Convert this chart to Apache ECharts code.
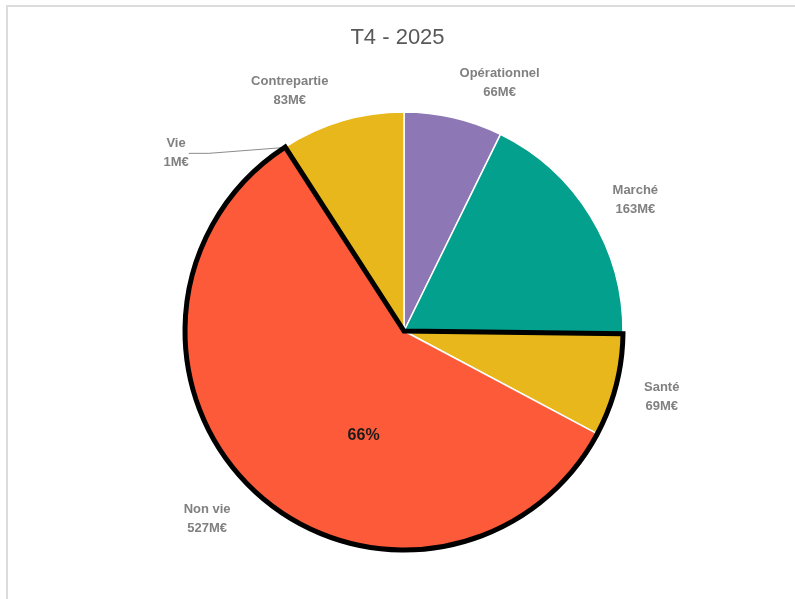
<!DOCTYPE html>
<html>
<head>
<meta charset="utf-8">
<script src="https://cdn.jsdelivr.net/npm/echarts@6/dist/echarts.min.js"></script>
<style>
  html, body { margin: 0; padding: 0; background: #ffffff; }
  #chart { width: 795px; height: 599px; }
</style>
</head>
<body>
<div id="chart"></div>
<script>
// Capital requirement by risk module, Q4 2025 (M€)
const categories = ['Opérationnel', 'Marché', 'Santé', 'Non vie', 'Vie', 'Contrepartie'];
const valuesM = [66, 163, 69, 527, 1, 83];
const sliceColors = ['#8e77b5', '#02a08d', '#e8b71b', '#fd5a3a', '#f2c9a0', '#e8b71b'];
// Underwriting modules grouped together and outlined
const underwritingGroup = ['Santé', 'Non vie', 'Vie'];

const total = valuesM.reduce((a, b) => a + b, 0);
const cx = 404, cy = 331, R = 219;

// Mid-angle (degrees clockwise from 12 o'clock) of each slice
const midAngles = [];
let acc = 0;
valuesM.forEach(v => {
  const a = v / total * 360;
  midAngles.push(acc + a / 2);
  acc += a;
});

// Small angular nudges that keep the outside labels clear of one another
const labelNudge = { 'Opérationnel': 8, 'Marché': 2, 'Contrepartie': -9, 'Non vie': 4, 'Vie': -19 };
const labelDist = { 'Vie': 289, 'Non vie': 272 };

const groupIdx = underwritingGroup.map(n => categories.indexOf(n));
const beforeSum = valuesM.slice(0, Math.min(...groupIdx)).reduce((a, b) => a + b, 0);
const groupSum = groupIdx.reduce((a, i) => a + valuesM[i], 0);
const afterSum = total - beforeSum - groupSum;

const chart = echarts.init(document.getElementById('chart'), null, { renderer: 'canvas' });

chart.setOption({
  backgroundColor: '#ffffff',
  animation: false,
  title: {
    text: 'T4 - 2025',
    left: 'center',
    top: 22,
    textStyle: { fontFamily: 'Liberation Sans, Arial, sans-serif', fontSize: 22, fontWeight: 'normal', color: '#595959' }
  },
  graphic: [{
    type: 'rect',
    shape: { x: 7, y: 6, width: 800, height: 600 },
    style: { fill: 'none', stroke: '#dcdcdc', lineWidth: 2 },
    silent: true
  }],
  series: [
    {
      type: 'pie',
      center: [cx, cy],
      radius: [0, R],
      startAngle: 90,
      clockwise: true,
      silent: true,
      itemStyle: { borderColor: '#ffffff', borderWidth: 1.5 },
      data: categories.map((c, i) => ({
        name: c,
        value: valuesM[i],
        itemStyle: { color: sliceColors[i] },
        labelLine: { show: c === 'Vie' }
      })),
      label: {
        show: true,
        position: 'outside',
        formatter: p => p.name + '\n' + p.value + 'M€',
        fontFamily: 'Liberation Sans, Arial, sans-serif',
        fontSize: 13,
        fontWeight: 'bold',
        color: '#808080',
        lineHeight: 19,
        align: 'center'
      },
      labelLine: { show: false, length: 20, length2: 20, lineStyle: { color: '#8c8c8c', width: 1 } },
      labelLayout: function (params) {
        const name = categories[params.dataIndex];
        const ang = (midAngles[params.dataIndex] + (labelNudge[name] || 0)) * Math.PI / 180;
        const d = labelDist[name] || 266;
        const x = cx + Math.sin(ang) * d;
        const y = cy - Math.cos(ang) * d;
        return { x: x, y: y, align: 'center', verticalAlign: 'middle' };
      }
    },
    {
      // Outline around the underwriting group, with its share of the total
      type: 'pie',
      center: [cx, cy],
      radius: [0, R],
      startAngle: 90,
      clockwise: true,
      silent: true,
      z: 3,
      data: [
        { name: 'autres1', value: beforeSum, itemStyle: { color: 'rgba(0,0,0,0)', borderWidth: 0 }, label: { show: false } },
        { name: 'Souscription', value: groupSum, itemStyle: { color: 'rgba(0,0,0,0)', borderColor: '#000000', borderWidth: 5, borderJoin: 'miter' } },
        { name: 'autres2', value: afterSum, itemStyle: { color: 'rgba(0,0,0,0)', borderWidth: 0 }, label: { show: false } }
      ],
      label: {
        show: true,
        position: 'inside',
        formatter: '{d}%',
        fontFamily: 'Liberation Sans, Arial, sans-serif',
        fontSize: 16,
        fontWeight: 'bold',
        color: '#1a1a1a',
        offset: [14, 6]
      },
      percentPrecision: 0,
      labelLine: { show: false }
    }
  ]
});
</script>
</body>
</html>
